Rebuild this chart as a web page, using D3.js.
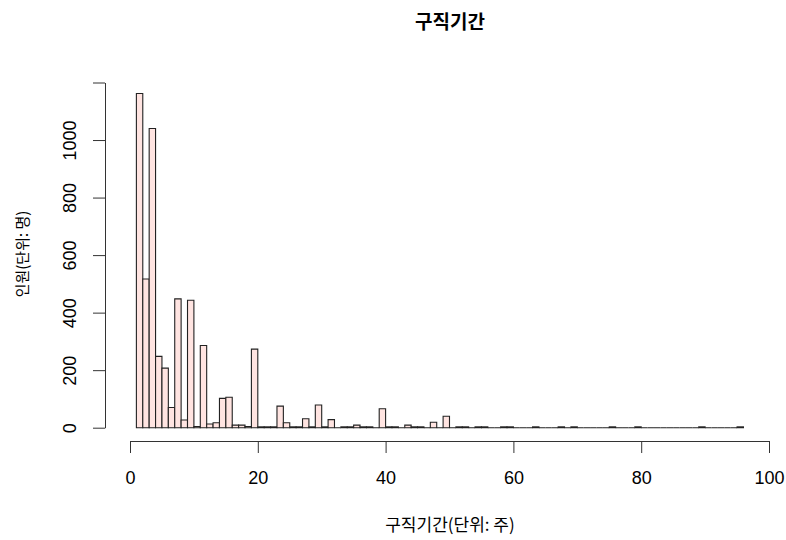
<!DOCTYPE html>
<html>
<head>
<meta charset="utf-8">
<script src="https://cdn.jsdelivr.net/npm/d3@7"></script>
<style>
  body { margin: 0; background: #fff; }
  svg text { fill: #000; }
</style>
</head>
<body>
<svg id="chart" width="786" height="540"></svg>
<script>
// histogram of job-search duration, bin width 1 week (1..96)
var binStart = 1;
var counts = [
  1162, 517, 1040, 248, 207, 70, 448, 27, 443, 4,
  286, 13, 17, 102, 106, 9, 9, 4, 273, 3,
  3, 3, 75, 17, 3, 3, 31, 3, 79, 3,
  28, 0, 3, 3, 9, 3, 3, 0, 66, 3,
  3, 0, 9, 3, 3, 0, 19, 0, 40, 0,
  3, 3, 0, 3, 3, 0, 0, 3, 3, 0,
  0, 0, 3, 0, 0, 0, 3, 0, 3, 0,
  0, 0, 0, 0, 3, 0, 0, 0, 3, 0,
  0, 0, 0, 0, 0, 0, 0, 0, 3, 0,
  0, 0, 0, 0, 3
];
var xTicks = [0, 20, 40, 60, 80, 100];
var yTicks = [0, 200, 400, 600, 800, 1000, 1200];
var yLabels = ["0", "200", "400", "600", "800", "1000", ""];

var title = "구직기간";
var xTitle = "구직기간(단위: 주)";
var yTitle = "인원(단위: 명)";

var bins = counts.map(function(c, i) {
  return { x0: binStart + i, x1: binStart + i + 1, n: c };
});

var svg = d3.select("#chart");

var x = d3.scaleLinear().domain([0, 100]).range([130, 769]);
var y = d3.scaleLinear().domain([0, 1200]).range([427.7, 82.5]);

var numFont = "'Liberation Sans', Arial, sans-serif";
var krFont = "'Noto Sans CJK KR', 'Noto Sans', sans-serif";

// bars as paths so empty bins still show their outline on the baseline
svg.append("g")
  .selectAll("path")
  .data(bins)
  .enter()
  .append("path")
  .attr("d", function(d) {
    var p = d3.path();
    p.moveTo(x(d.x0), y(0));
    p.lineTo(x(d.x0), y(d.n));
    p.lineTo(x(d.x1), y(d.n));
    p.lineTo(x(d.x1), y(0));
    p.closePath();
    return p.toString();
  })
  .attr("fill", "#ffe4e1")
  .attr("stroke", "#222")
  .attr("stroke-width", 1.1);

// x axis
var xAxis = svg.append("g")
  .attr("transform", "translate(0,441)")
  .call(d3.axisBottom(x).tickValues(xTicks).tickSize(12).tickSizeOuter(0).tickPadding(18));
xAxis.selectAll("text")
  .style("font-family", numFont)
  .style("font-size", "18px");

// y axis
var yAxis = svg.append("g")
  .attr("transform", "translate(105,0)")
  .call(d3.axisLeft(y).tickValues(yTicks).tickSize(12).tickSizeOuter(0)
    .tickFormat(function(d, i) { return yLabels[i]; }));
yAxis.selectAll("text")
  .attr("x", null)
  .attr("dy", null)
  .attr("text-anchor", "middle")
  .attr("dominant-baseline", "central")
  .attr("transform", "translate(-35,0) rotate(-90)")
  .style("font-family", numFont)
  .style("font-size", "18px");

svg.selectAll(".domain, .tick line").attr("stroke", "#333");

// titles
svg.append("text")
  .attr("x", 450)
  .attr("y", 29)
  .attr("text-anchor", "middle")
  .style("font-family", krFont)
  .style("font-weight", "bold")
  .style("font-size", "19px")
  .text(title);

svg.append("text")
  .attr("x", 450)
  .attr("y", 531)
  .attr("text-anchor", "middle")
  .style("font-family", krFont)
  .style("font-size", "17px")
  .text(xTitle);

svg.append("text")
  .attr("transform", "translate(28,254) rotate(-90)")
  .attr("text-anchor", "middle")
  .style("font-family", krFont)
  .style("font-size", "15px")
  .text(yTitle);
</script>
</body>
</html>
